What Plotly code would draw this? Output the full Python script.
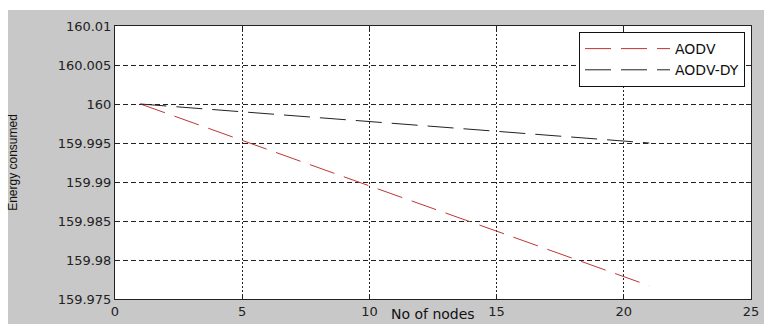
import plotly.graph_objects as go

# ---- data ----
nodes = [1, 5, 10, 15, 20, 21]
aodv = [160.0, 159.9953, 159.9895, 159.9837, 159.9779, 159.9767]
aodv_dy = [160.0, 159.9990, 159.9977, 159.9965, 159.9952, 159.9950]

x_ticks = [0, 5, 10, 15, 20, 25]
y_ticks = [159.975, 159.98, 159.985, 159.99, 159.995, 160.0, 160.005, 160.01]
y_tick_text = ["159.975", "159.98", "159.985", "159.99", "159.995", "160", "160.005", "160.01"]
x_title = "No of nodes"
y_title = "Energy consumed"

W, H = 764, 324
L, R, T, B = 115, 13, 26, 25
pw, ph = W - L - R, H - T - B

def px_x(px):
    return (px - L) / pw

def px_y(py):
    return (H - B - py) / ph

fig = go.Figure()
fig.add_trace(go.Scatter(
    x=nodes, y=aodv, mode="lines", name="AODV",
    line=dict(color="#c03535", width=1, dash="26px,10px"),
))
fig.add_trace(go.Scatter(
    x=nodes, y=aodv_dy, mode="lines", name="AODV-DY",
    line=dict(color="#222222", width=1, dash="26px,10px"),
))

tick_font = dict(family="DejaVu Sans", size=13, color="#222222")

fig.update_layout(
    width=W, height=H,
    margin=dict(l=L, r=R, t=T, b=B, autoexpand=False),
    paper_bgcolor="#c8c8c8",
    plot_bgcolor="white",
    showlegend=True,
    legend=dict(
        x=px_x(745), y=px_y(32), xanchor="right", yanchor="top",
        bgcolor="white", bordercolor="#111111", borderwidth=1,
        font=dict(family="DejaVu Sans", size=14, color="#111111"),
        tracegroupgap=0, itemwidth=85,
    ),
    xaxis=dict(
        range=[0, 25], tickvals=x_ticks, ticktext=[str(v) for v in x_ticks],
        showgrid=True, gridcolor="#222222", gridwidth=1, griddash="2px,2px",
        showline=True, linecolor="#222222", linewidth=1, mirror="ticks",
        ticks="inside", ticklen=5, tickcolor="#222222",
        tickfont=tick_font, zeroline=False, automargin=False,
    ),
    yaxis=dict(
        range=[159.975, 160.01], tickvals=y_ticks, ticktext=y_tick_text,
        showgrid=True, gridcolor="#222222", gridwidth=1, griddash="5px,3px",
        showline=True, linecolor="#222222", linewidth=1, mirror="ticks",
        ticks="inside", ticklen=5, tickcolor="#222222",
        tickfont=tick_font, zeroline=False, automargin=False,
        title=dict(text=y_title, font=dict(family="Liberation Sans", size=12, color="#111111"), standoff=37),
    ),
    annotations=[
        dict(text=x_title, xref="paper", yref="paper", x=0.5, y=px_y(324),
             xanchor="center", yanchor="bottom", showarrow=False,
             font=dict(family="DejaVu Sans", size=14, color="#111111")),
    ],
    shapes=[
        dict(type="rect", xref="paper", yref="paper", layer="below",
             x0=px_x(0), x1=px_x(W), y0=px_y(10), y1=px_y(0),
             fillcolor="white", line=dict(width=0)),
        dict(type="rect", xref="paper", yref="paper", layer="below",
             x0=px_x(0), x1=px_x(8), y0=px_y(H), y1=px_y(0),
             fillcolor="white", line=dict(width=0)),
    ],
)

fig.write_html("out.html")
